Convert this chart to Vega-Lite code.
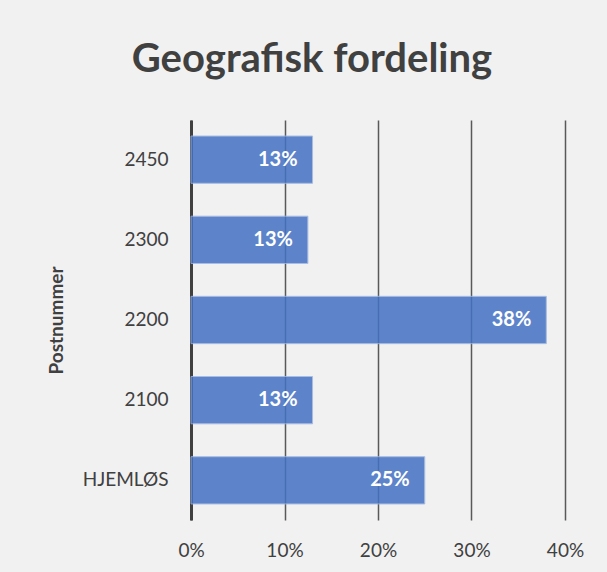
{
  "$schema": "https://vega.github.io/schema/vega-lite/v6.json",
  "autosize": "none",
  "width": 374,
  "height": 400,
  "padding": {"left": 191, "top": 120, "right": 42, "bottom": 52},
  "background": "#f1f1f1",
  "title": {
    "text": "Geografisk fordeling",
    "font": "Lato",
    "fontSize": 40,
    "fontWeight": "bold",
    "color": "#404040",
    "anchor": "middle",
    "dx": -66,
    "offset": 40
  },
  "data": {
    "values": [
      {"postnummer": "2450", "andel": 0.13},
      {"postnummer": "2300", "andel": 0.125},
      {"postnummer": "2200", "andel": 0.38},
      {"postnummer": "2100", "andel": 0.13},
      {"postnummer": "HJEMLØS", "andel": 0.25}
    ]
  },
  "encoding": {
    "y": {
      "field": "postnummer",
      "type": "nominal",
      "sort": ["2450", "2300", "2200", "2100", "HJEMLØS"],
      "scale": {"paddingInner": 0.41, "paddingOuter": 0.2},
      "axis": {
        "title": "Postnummer",
        "titleFont": "Lato",
        "titleFontSize": 19,
        "titleFontWeight": "bold",
        "titleColor": "#404040",
        "titlePadding": 16,
        "labelFont": "Lato",
        "labelFontSize": 19,
        "labelColor": "#404040",
        "labelPadding": 23,
        "ticks": false,
        "domain": true,
        "domainColor": "#404040",
        "domainWidth": 3
      }
    },
    "x": {
      "field": "andel",
      "type": "quantitative",
      "scale": {"domain": [0, 0.4], "nice": false},
      "axis": {
        "title": null,
        "format": ".0%",
        "values": [0, 0.1, 0.2, 0.3, 0.4],
        "labelFont": "Lato",
        "labelFontSize": 19,
        "labelColor": "#404040",
        "labelPadding": 21,
        "labelFlush": false,
        "ticks": false,
        "domain": false,
        "grid": true,
        "gridColor": "#595959",
        "gridWidth": 1.5
      }
    }
  },
  "layer": [
    {
      "mark": {"type": "bar", "color": "#4472C4", "opacity": 0.85, "stroke": "#9db4e0", "strokeWidth": 1}
    },
    {
      "mark": {
        "type": "text",
        "align": "right",
        "baseline": "middle",
        "dx": -15,
        "font": "Lato",
        "fontSize": 20,
        "fontWeight": "bold",
        "color": "white"
      },
      "encoding": {
        "text": {"field": "andel", "type": "quantitative", "format": ".0%"}
      }
    }
  ],
  "config": {"view": {"stroke": null}}
}
